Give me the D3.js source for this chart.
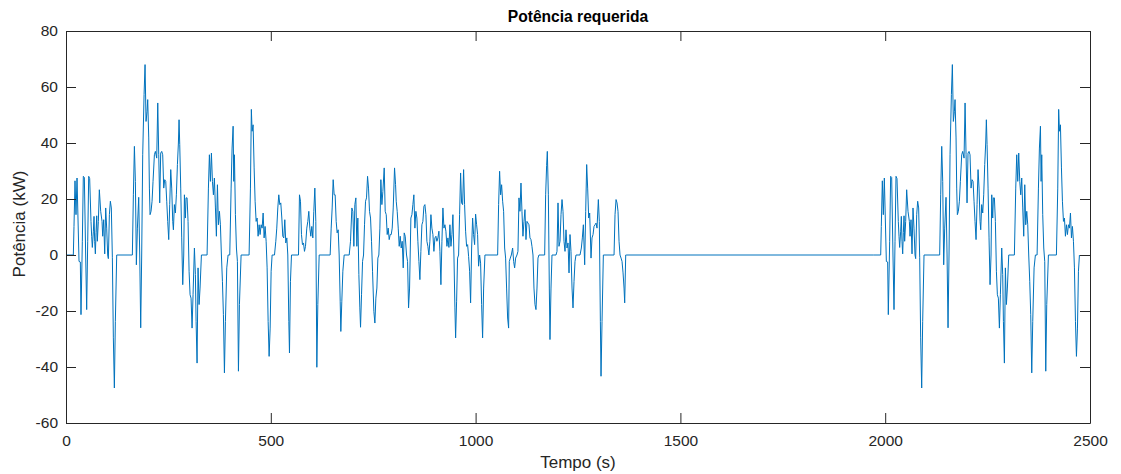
<!DOCTYPE html>
<html>
<head>
<meta charset="utf-8">
<script src="https://cdn.jsdelivr.net/npm/d3@7"></script>
<style>
  html, body { margin: 0; padding: 0; background: #ffffff; }
  svg { display: block; font-family: "Liberation Sans", Arial, Helvetica, sans-serif; }
</style>
</head>
<body>
<svg id="chart" width="1121" height="474"></svg>
<script>
// ---------------- data ----------------
const chartTitle = "Potência requerida";
const xLabel = "Tempo (s)";
const yLabel = "Potência (kW)";
const xTicks = [0, 500, 1000, 1500, 2000, 2500];
const yTicks = [-60, -40, -20, 0, 20, 40, 60, 80];

// [time (s), power (kW)] — cold start phase
const coldStart = [
[0,0],[17.9,0],[19.5,10.2],[22,26.5],[24.4,14.4],[26.9,27.5],[31.8,-2.3],[35,-2.5],[36.6,-21.3],[39.9,4.9],[42.3,28.1],[44.8,27.7],[48,0],[50.5,-19.5],[53,4.9],[55.4,28.1],[57.8,27.3],[61,12],[62.7,6.7],[64.3,2.7],[66.8,8.5],[68.4,13.8],[70,4.9],[71.7,0.4],[73.3,8],[75,14],[76.5,4.9],[79,12],[81.4,23.3],[84.7,15.6],[88,12],[89.6,6.7],[92,12.6],[94.5,0.4],[96.9,16.8],[99.3,9.6],[101.8,0],[103.4,-1.3],[105.9,14.4],[108.3,19.2],[110.7,16.8],[113.2,-1],[115.6,-29.6],[118.1,-47.5],[120.5,-23.7],[123.8,0],[162,0],[164.5,21.5],[167,38.8],[169.4,26.3],[171.8,-3.5],[174.3,9.6],[177.5,20.6],[180,0],[182.4,-26],[184.8,0],[187.3,35.8],[190.6,57.3],[193,68],[195.4,47.7],[197.9,51.3],[199.5,55.5],[202,41.8],[203.6,23.9],[205.2,14.4],[207.6,15.6],[210.1,19.2],[212.5,26.3],[215.8,35.8],[218.2,37],[221.5,34.6],[224,54.3],[226.4,35.8],[228.8,18.6],[231.2,36.4],[233.7,37],[236.1,35.8],[238.6,23.9],[241,26.9],[243.5,26.3],[245.9,19.2],[248.3,12],[250.8,5.5],[253.2,18],[255.7,30.5],[258.1,23.9],[260.6,12],[262.2,9],[264.6,18],[267.1,15],[269.5,21.5],[272,32.3],[274.4,40],[276,48.3],[277.7,39.4],[280.1,23.9],[282.5,6.1],[285,-10.6],[287.4,0],[289.1,21.5],[291.5,13.2],[293.1,20.4],[295.6,20.4],[298,12],[300.5,-5.8],[302.9,-14.2],[305.3,-15.4],[307.8,-26.1],[310.2,-14.2],[313.5,2.5],[315.9,-7],[317.6,-23.7],[320,-38.6],[322.4,-4.6],[324.9,-17.7],[327.3,-11.8],[330.6,0],[344.4,0],[347.7,23.9],[350.1,35.8],[352.6,26.3],[355,36.4],[357.5,26.3],[359.9,21.5],[362.3,27.5],[364.8,16.8],[367.2,6.7],[369.7,25.1],[372.1,10.8],[374.6,15.6],[377,10.8],[379.4,0],[381.9,-9.4],[384.3,-21.3],[386.8,-42.1],[389.2,-23.7],[392.5,-4.6],[395.7,0],[399.8,0],[403.1,23.9],[405.5,38.2],[408,46],[409.6,26.3],[411.2,35.8],[413.6,14.4],[416.1,2.5],[418.5,-2.3],[421,-41.5],[423.4,-17.7],[427.5,0],[447,0],[450.3,23.9],[452.5,52],[454.4,44.2],[456.8,46.5],[459.3,31.1],[461.7,19.2],[464.2,12],[466.6,13.2],[469,6.7],[471.5,10.8],[473.9,7.3],[476.4,10.8],[478.8,9.6],[481.3,15],[483.7,6.1],[486.1,10.2],[488.6,4.9],[491,-4.6],[493.5,-23.7],[495.9,-36.2],[498.4,-26.1],[500.8,-5.8],[503.2,0]
];

// transient phase
const transient = [
[509,0],[512.2,4.9],[514.6,9.6],[517.1,16.8],[519.5,21.5],[522,18],[524.4,18.6],[526.9,13.2],[529.3,6.7],[531.7,6.1],[534.2,12.6],[536.6,4.3],[539.1,6.1],[541.5,0],[544,-23.7],[545.6,-35],[548,-9.4],[550.5,0],[567.6,0],[570,21.5],[572.5,19.2],[574.9,7.3],[577.3,3.7],[579.8,4.3],[582.2,1.3],[584.7,3.1],[587.9,9.6],[590.4,12],[592.8,15.6],[595.3,9.6],[597.7,6.7],[600.1,10.2],[602.6,6.1],[605,15.6],[607.5,23.9],[609.9,12],[612.4,-40.1],[614.8,-17.7],[618.1,0],[644.9,0],[647.4,9.6],[649.8,16.8],[652.3,26.9],[654.7,21.5],[657.1,21.5],[659.6,12],[662,7.9],[664.5,9],[666.9,0],[669.4,-16.5],[671,-27.3],[673.4,-16.5],[675.9,-5.8],[679.1,0],[691.4,0],[694.6,4.9],[697.9,16.8],[700.3,15.6],[702.8,3.1],[705.2,18],[707.7,20.4],[710.1,3.1],[712.5,13.2],[715,-7],[717.4,-18.9],[719.1,-25.8],[721.5,-14.2],[724,-2.3],[726.4,0],[728.8,10.8],[731.3,19.2],[733.7,20.4],[736.2,28.1],[738.6,23.9],[741,15.6],[743.5,13.2],[745.9,4.9],[748.4,-5.8],[751.6,-20.1],[754.1,-24.3],[756.5,-15.4],[759,-11.8],[761.4,-1.1],[763.8,0],[766.3,9.6],[768.7,26.9],[771.2,18],[773.6,22.7],[776.9,31.1],[779.3,15.6],[781.8,14.4],[784.2,7.3],[786.6,9.6],[789.1,5.5],[791.5,7.3],[794,7.3],[796.4,9.6],[798.9,16.8],[802.1,31.1],[804.6,25.1],[806.2,19.2],[808.6,15.6],[811.1,9.6],[813.5,3.1],[816,6.7],[818.4,2.5],[820.8,4.9],[823.3,-4.6],[825.7,7.9],[828.2,6.7],[831.4,0],[833.9,-2.3],[836.3,-18.9],[838.8,-11.8],[842,13.2],[844.5,14.4],[846.9,18],[849.3,21.5],[851.8,9.6],[854.2,15.6],[856.7,13.2],[859.1,4.9],[861.6,-2.3],[864,-8.8],[866.4,1.3],[868.9,10.8],[871.3,12],[873.8,17.4],[876.2,18],[878.7,14.4],[881.1,4.9],[883.5,3.1],[886,0],[888.4,4.9],[890.9,14.4],[893.3,9.6],[895.8,7.3],[898.2,1.3],[900.7,6.1],[903.1,6.7],[905.5,4.9],[908,6.1],[910.4,8.5],[912.9,1.3],[915.3,-10.6],[917.8,4.9],[920.2,16.8],[922.7,9.6],[925.1,10.8],[927.5,8.5],[930,3.1],[932.4,6.1],[934.9,2.7],[937.3,10.8],[939.8,3.1],[942.2,7.3],[944.6,14.4],[947.1,0],[949.5,-18.9],[951.2,-29.6],[953.6,-16.5],[956,-1.1],[958.5,0],[960.9,14.4],[963.4,29.3],[965.8,18.6],[968.3,18],[970.7,30.5],[973.1,18],[975.6,8.5],[978,3.1],[980.5,3.7],[982.9,-0.5],[985.4,-5.8],[987.8,-17.1],[990.3,2.5],[992.7,13.2],[995.1,7.3],[997.6,3.7],[1000,14.6],[1002.5,10.8],[1004.9,7.3],[1007.3,-4],[1009.8,0],[1012.2,-2.9],[1014.7,-17.7],[1017.1,-29.6],[1019.6,-11.8],[1022.8,0],[1053.8,0],[1056.2,18],[1058.6,29.9],[1061.1,21.5],[1063.5,25.1],[1066,19.2],[1068.4,15.6],[1070.9,2.5],[1073.3,-1.1],[1075.7,-11.8],[1078.2,-22.5],[1080.6,-26.1],[1082.3,-2.3],[1084.7,-1.1],[1087.2,0],[1090.4,2.5],[1092.9,-2.3],[1095.3,-4.6],[1097.7,-1.1],[1101,0],[1103.4,1.3],[1105.9,20.4],[1108.3,15.6],[1110.8,25.7],[1113.2,15.6],[1115.6,6.7],[1118.1,12],[1120.5,16.2],[1123,5.5],[1125.4,12],[1127.9,11.4],[1130.3,10.8],[1132.7,6.1],[1135.2,5.5],[1137.6,3.1],[1140.1,0],[1142.5,-11.8],[1145,-17.7],[1147.4,-19.5],[1149.9,-11.8],[1152.3,-1.1],[1154.7,0],[1168.6,0],[1171,21.5],[1173.4,32],[1175.1,37],[1177.6,21.5],[1180,-11.8],[1181.6,-30.2],[1184.1,-11.8],[1186.5,0],[1196.3,0],[1198.7,1.3],[1201.2,18.6],[1203.6,3.1],[1206.1,4.9],[1208.5,14.4],[1211,19.8],[1213.4,15.6],[1215.8,4.9],[1218.3,1.3],[1220.7,9],[1223.2,2.5],[1225.6,4.3],[1228.1,-6.4],[1230.5,7.3],[1232.9,1.3],[1235.4,-11.8],[1237.8,-18.9],[1240.3,-9.4],[1242.7,-2.3],[1245.1,0],[1254.9,0],[1258.2,2.5],[1260.6,6.1],[1263.1,10.8],[1266.3,-3.5],[1268.8,15.6],[1271.2,32.3],[1273.6,23.9],[1276.1,13.2],[1278.5,15],[1281.8,-1.1],[1284.2,6.1],[1286.7,7.3],[1289.1,10.2],[1291.6,10.8],[1294,11.4],[1296.4,9.6],[1299.7,19.8],[1302.1,12],[1304.6,-23.7],[1306.2,-43.3],[1308.7,-23.7],[1311.9,0],[1338,0],[1340.4,14.4],[1342.9,19.8],[1345.3,18.6],[1347.7,15.6],[1350.2,4.9],[1352.6,0],[1355.1,-1.1],[1357.5,-2.3],[1360,-6.4],[1362.4,-11.8],[1364,-17.1],[1366.5,0],[1369,0]
];

// soak (engine off)
const soak = [[1369,0],[1971,0]];

// hot start phase
const hotStart = [
[1971,0],[1989,0],[1990.5,10.2],[1993,26.5],[1995.4,14.4],[1997.9,27.5],[2002.8,-2.3],[2006,-2.5],[2007.6,-21.3],[2010.9,4.9],[2013.3,28.1],[2015.8,27.7],[2019,0],[2021.5,-19.5],[2024,4.9],[2026.4,28.1],[2028.8,27.3],[2032,12],[2033.7,6.7],[2035.3,2.7],[2037.8,8.5],[2039.4,13.8],[2041,4.9],[2042.7,0.4],[2044.3,8],[2046,14],[2047.5,4.9],[2050,12],[2052.4,23.3],[2055.7,15.6],[2059,12],[2060.6,6.7],[2063,12.6],[2065.5,0.4],[2067.9,16.8],[2070.3,9.6],[2072.8,0],[2074.4,-1.3],[2076.9,14.4],[2079.3,19.2],[2081.7,16.8],[2084.2,-1],[2086.6,-29.6],[2089.1,-47.5],[2091.5,-23.7],[2094.8,0],[2133,0],[2135.5,21.5],[2138,38.8],[2140.4,26.3],[2142.8,-3.5],[2145.3,9.6],[2148.5,20.6],[2151,0],[2153.4,-26],[2155.8,0],[2158.3,35.8],[2161.6,57.3],[2164,68],[2166.4,47.7],[2168.9,51.3],[2170.5,55.5],[2173,41.8],[2174.6,23.9],[2176.2,14.4],[2178.6,15.6],[2181.1,19.2],[2183.5,26.3],[2186.8,35.8],[2189.2,37],[2192.5,34.6],[2195,54.3],[2197.4,35.8],[2199.8,18.6],[2202.2,36.4],[2204.7,37],[2207.1,35.8],[2209.6,23.9],[2212,26.9],[2214.5,26.3],[2216.9,19.2],[2219.3,12],[2221.8,5.5],[2224.2,18],[2226.7,30.5],[2229.1,23.9],[2231.6,12],[2233.2,9],[2235.6,18],[2238.1,15],[2240.5,21.5],[2243,32.3],[2245.4,40],[2247,48.3],[2248.7,39.4],[2251.1,23.9],[2253.5,6.1],[2256,-10.6],[2258.4,0],[2260.1,21.5],[2262.5,13.2],[2264.1,20.4],[2266.6,20.4],[2269,12],[2271.5,-5.8],[2273.9,-14.2],[2276.3,-15.4],[2278.8,-26.1],[2281.2,-14.2],[2284.5,2.5],[2286.9,-7],[2288.6,-23.7],[2291,-38.6],[2293.4,-4.6],[2295.9,-17.7],[2298.3,-11.8],[2301.6,0],[2315.4,0],[2318.7,23.9],[2321.1,35.8],[2323.6,26.3],[2326,36.4],[2328.5,26.3],[2330.9,21.5],[2333.3,27.5],[2335.8,16.8],[2338.2,6.7],[2340.7,25.1],[2343.1,10.8],[2345.6,15.6],[2348,10.8],[2350.4,0],[2352.9,-9.4],[2355.3,-21.3],[2357.8,-42.1],[2360.2,-23.7],[2363.5,-4.6],[2366.7,0],[2370.8,0],[2374.1,23.9],[2376.5,38.2],[2379,46],[2380.6,26.3],[2382.2,35.8],[2384.6,14.4],[2387.1,2.5],[2389.5,-2.3],[2392,-41.5],[2394.4,-17.7],[2398.5,0],[2418,0],[2421.3,23.9],[2423.5,52],[2425.4,44.2],[2427.8,46.5],[2430.3,31.1],[2432.7,19.2],[2435.2,12],[2437.6,13.2],[2440,6.7],[2442.5,10.8],[2444.9,7.3],[2447.4,10.8],[2449.8,9.6],[2452.3,15],[2454.7,6.1],[2457.1,10.2],[2459.6,4.9],[2462,-4.6],[2464.5,-23.7],[2466.9,-36.2],[2469.4,-26.1],[2471.8,-5.8],[2474.2,0]
];

// ---------------- drawing ----------------
const W = 1121, H = 474;
const margin = { left: 66, right: 31, top: 31, bottom: 51 };
const plotW = W - margin.left - margin.right;
const plotH = H - margin.top - margin.bottom;
const axisColor = "#262626";
const lineColor = "#0072BD";

const svg = d3.select("#chart");
const g = svg.append("g").attr("transform", `translate(${margin.left},${margin.top})`);

const x = d3.scaleLinear().domain([0, 2500]).range([0, plotW]);
const y = d3.scaleLinear().domain([-60, 80]).range([plotH, 0]);

// series
const series = coldStart.concat(transient, soak, hotStart);
const line = d3.line().x(d => x(d[0])).y(d => y(d[1]));
g.append("path")
  .datum(series)
  .attr("fill", "none")
  .attr("stroke", lineColor)
  .attr("stroke-width", 1)
  .attr("stroke-linejoin", "round")
  .attr("d", line);

// axes
const fontTick = 15.5;
const plainFmt = d => String(d);
function styleAxis(sel, showLabels) {
  sel.select(".domain").attr("stroke", axisColor).attr("stroke-width", 1);
  sel.selectAll(".tick line").attr("stroke", axisColor).attr("stroke-width", 1);
  sel.selectAll(".tick text")
    .attr("fill", axisColor)
    .style("font-size", fontTick + "px")
    .style("font-family", "'Liberation Sans', Arial, sans-serif")
    .style("display", showLabels ? null : "none");
}

const xAxisB = d3.axisBottom(x).tickValues(xTicks).tickFormat(plainFmt).tickSizeInner(-10).tickSizeOuter(0).tickPadding(12);
const xAxisT = d3.axisTop(x).tickValues(xTicks).tickFormat(plainFmt).tickSizeInner(-10).tickSizeOuter(0);
const yAxisL = d3.axisLeft(y).tickValues(yTicks).tickFormat(plainFmt).tickSizeInner(-10).tickSizeOuter(0).tickPadding(8);
const yAxisR = d3.axisRight(y).tickValues(yTicks).tickFormat(plainFmt).tickSizeInner(-10).tickSizeOuter(0);

g.append("g").attr("transform", `translate(0,${plotH})`).call(xAxisB).call(s => styleAxis(s, true));
g.append("g").call(xAxisT).call(s => styleAxis(s, false));
g.append("g").call(yAxisL).call(s => styleAxis(s, true));
g.append("g").attr("transform", `translate(${plotW},0)`).call(yAxisR).call(s => styleAxis(s, false));

// titles
svg.append("text")
  .attr("x", margin.left + plotW / 2)
  .attr("y", 21.5)
  .attr("text-anchor", "middle")
  .attr("fill", "#000")
  .style("font-size", "15.6px")
  .style("font-weight", "bold")
  .text(chartTitle);

svg.append("text")
  .attr("x", margin.left + plotW / 2)
  .attr("y", 468)
  .attr("text-anchor", "middle")
  .attr("fill", axisColor)
  .style("font-size", "17px")
  .text(xLabel);

svg.append("text")
  .attr("transform", `translate(24.7,${margin.top + plotH / 2 - 3}) rotate(-90)`)
  .attr("text-anchor", "middle")
  .attr("fill", axisColor)
  .style("font-size", "17px")
  .text(yLabel);
</script>
</body>
</html>
